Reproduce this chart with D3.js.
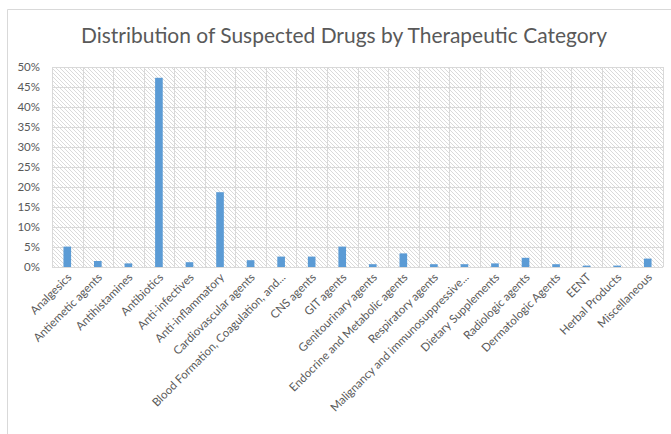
<!DOCTYPE html>
<html>
<head>
<meta charset="utf-8">
<script src="https://cdn.jsdelivr.net/npm/d3@7"></script>
<style>
  body { margin: 0; background: #fff; }
  text { font-family: Lato, "Open Sans", sans-serif; fill: #595959; }
</style>
</head>
<body>
<svg id="chart" width="671" height="434"></svg>
<script>
var categories = ["Analgesics", "Antiemetic agents", "Antihistamines", "Antibiotics", "Anti-infectives",
    "Anti-inflammatory", "Cardiovascular agents", "Blood Formation, Coagulation, and...", "CNS agents",
    "GIT agents", "Genitourinary agents", "Endocrine and Metabolic agents", "Respiratory agents",
    "Malignancy and immunosuppressive...", "Dietary Supplements", "Radiologic agents",
    "Dermatologic Agents", "EENT", "Herbal Products", "Miscellaneous"];
var shares = [5.1, 1.5, 0.9, 47.3, 1.2, 18.7, 1.7, 2.6, 2.6, 5.1, 0.7, 3.4, 0.7, 0.7, 0.9, 2.3, 0.7, 0.35, 0.35, 2.1];
var y_ticks = [0, 5, 10, 15, 20, 25, 30, 35, 40, 45, 50];
var title = "Distribution of Suspected Drugs by Therapeutic Category";

var svg = d3.select("#chart");
var plot_left = 52, plot_right = 663, plot_top = 67, plot_bottom = 267;

// chart frame (only top and left edges show in the picture)
svg.append("path")
    .attr("d", `M7.5,434 L7.5,9.5 L671,9.5`)
    .attr("fill", "none")
    .attr("stroke", "#d9d9d9");

// hatch fill for the plot area
var defs = svg.append("defs");
var pat = defs.append("pattern")
    .attr("id", "hatch")
    .attr("patternUnits", "userSpaceOnUse")
    .attr("width", 4).attr("height", 4);
pat.append("path")
    .attr("d", "M-1,-1 L5,5 M-1,3 L1,5 M3,-1 L5,1")
    .attr("stroke", "#dadada")
    .attr("stroke-width", 1);

var x = d3.scaleBand().domain(categories).range([plot_left, plot_right]);
var y = d3.scaleLinear().domain([0, 50]).range([plot_bottom, plot_top]);

svg.append("rect")
    .attr("x", plot_left).attr("y", plot_top)
    .attr("width", plot_right - plot_left).attr("height", plot_bottom - plot_top)
    .attr("fill", "url(#hatch)");

// grid lines
svg.append("g").selectAll("line").data(y_ticks).join("line")
    .attr("x1", plot_left).attr("x2", plot_right)
    .attr("y1", d => Math.round(y(d)) + 0.5).attr("y2", d => Math.round(y(d)) + 0.5)
    .attr("stroke", "#d9d9d9");
svg.append("g").selectAll("line").data(categories.concat([null])).join("line")
    .attr("x1", (d, i) => Math.round(plot_left + i * x.bandwidth()) + 0.5)
    .attr("x2", (d, i) => Math.round(plot_left + i * x.bandwidth()) + 0.5)
    .attr("y1", plot_top).attr("y2", plot_bottom)
    .attr("stroke", "#d9d9d9");

// bars
var bar_w = x.bandwidth() * 0.25;
svg.append("g").selectAll("rect").data(categories).join("rect")
    .attr("x", d => x(d) + x.bandwidth() / 2 - bar_w / 2)
    .attr("y", (d, i) => y(shares[i]))
    .attr("width", bar_w)
    .attr("height", (d, i) => y(0) - y(shares[i]))
    .attr("fill", "#5b9bd5");

// y axis labels
svg.append("g").selectAll("text").data(y_ticks).join("text")
    .attr("x", 40)
    .attr("y", d => y(d) + 4)
    .attr("text-anchor", "end")
    .attr("font-size", 11.5)
    .text(d => d + "%");

// x axis labels, rotated
svg.append("g").selectAll("text").data(categories).join("text")
    .attr("transform", d => `translate(${x(d) + x.bandwidth() / 2 + 5},${plot_bottom + 11}) rotate(-45)`)
    .attr("text-anchor", "end")
    .attr("font-size", 11.5)
    .text(d => d);

svg.append("text")
    .attr("x", 344)
    .attr("y", 43)
    .attr("text-anchor", "middle")
    .attr("font-size", 21.5)
    .attr("textLength", 526)
    .attr("lengthAdjust", "spacingAndGlyphs")
    .text(title);
</script>
</body>
</html>
